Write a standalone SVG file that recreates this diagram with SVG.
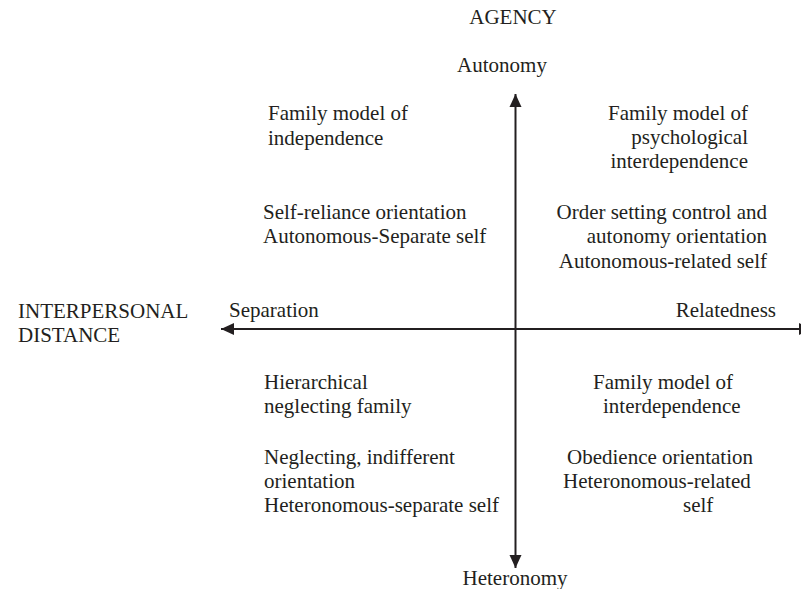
<svg xmlns="http://www.w3.org/2000/svg" width="801" height="589" viewBox="0 0 801 589">
<style>
text{font-family:"Liberation Serif","Times New Roman",serif;font-size:21px;fill:#231f20}
.e{text-anchor:end}
.m{text-anchor:middle}
.ax{stroke:#231f20;stroke-width:2;fill:none}
</style>
<defs>
<marker id="ah" markerUnits="userSpaceOnUse" markerWidth="14" markerHeight="14" viewBox="0 0 14 14" refX="13" refY="7" orient="auto">
<path d="M0,1 L13,7 L0,13 Z" fill="#231f20"/>
</marker>
</defs>
<rect width="801" height="589" fill="#fff"/>
<g id="connectors">
<line class="ax" x1="515.5" y1="329" x2="515.5" y2="94" marker-end="url(#ah)"/>
<line class="ax" x1="515.5" y1="329" x2="515.5" y2="568" marker-end="url(#ah)"/>
<line class="ax" x1="515.5" y1="329" x2="221" y2="329" marker-end="url(#ah)"/>
<line class="ax" x1="515.5" y1="329" x2="812" y2="329" marker-end="url(#ah)"/>
</g>
<g id="agency"><text class="m" x="513" y="24">AGENCY</text></g>
<g id="autonomy"><text class="m" x="502" y="72">Autonomy</text></g>
<g id="heteronomy"><text class="m" x="515" y="585">Heteronomy</text></g>
<g id="interpersonal-distance"><text x="18" y="318">INTERPERSONAL</text><text x="18" y="342">DISTANCE</text></g>
<g id="separation"><text x="229" y="317">Separation</text></g>
<g id="relatedness"><text class="e" x="776" y="317">Relatedness</text></g>
<g id="top-left">
<text x="268" y="120">Family model of</text>
<text x="268" y="145">independence</text>
<text x="263" y="219">Self-reliance orientation</text>
<text x="263" y="243">Autonomous-Separate self</text>
</g>
<g id="top-right">
<text class="e" x="748" y="120">Family model of</text>
<text class="e" x="748" y="144">psychological</text>
<text class="e" x="748" y="168">interdependence</text>
<text class="e" x="767" y="219">Order setting control and</text>
<text class="e" x="767" y="243">autonomy orientation</text>
<text class="e" x="767" y="268">Autonomous-related self</text>
</g>
<g id="bottom-left">
<text x="264" y="389">Hierarchical</text>
<text x="264" y="413">neglecting family</text>
<text x="264" y="464">Neglecting, indifferent</text>
<text x="264" y="488">orientation</text>
<text x="264" y="512">Heteronomous-separate self</text>
</g>
<g id="bottom-right">
<text x="593" y="389">Family model of</text>
<text x="603" y="413">interdependence</text>
<text x="567" y="464">Obedience orientation</text>
<text x="563" y="488">Heteronomous-related</text>
<text x="683" y="512">self</text>
</g>
</svg>
